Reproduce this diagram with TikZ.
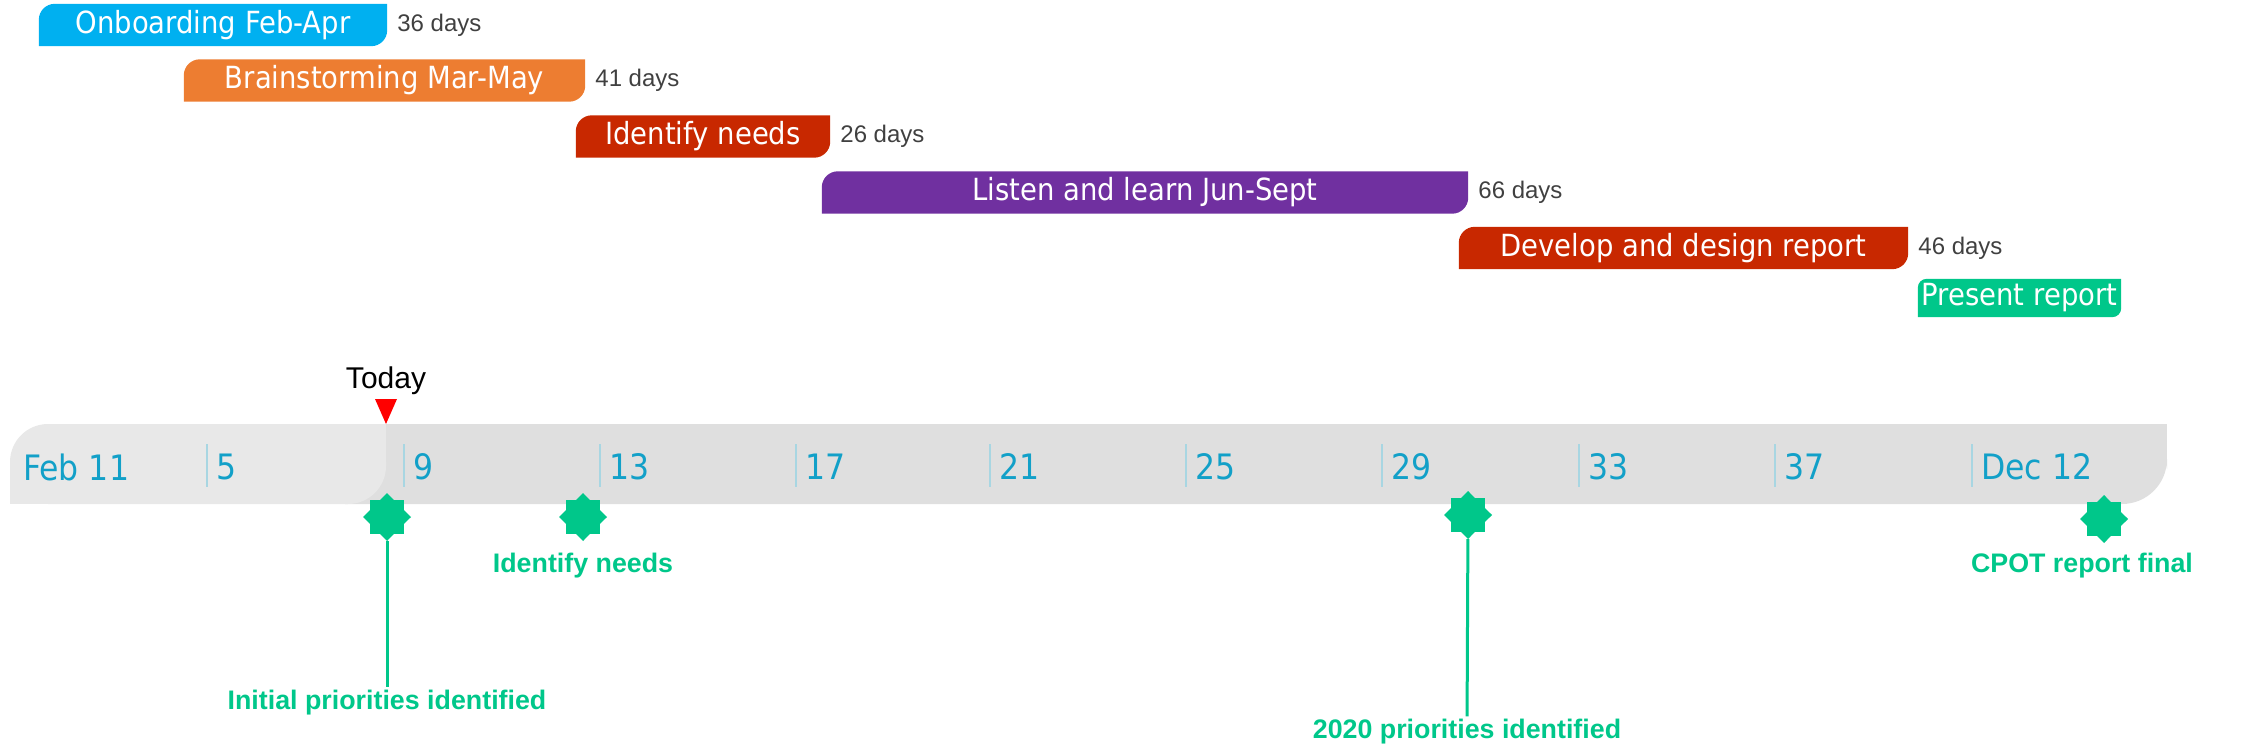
\documentclass[tikz,border=0pt]{standalone}
\usepackage{fontspec}
\setmainfont{Liberation Sans}
\newfontfamily\barfont[FakeStretch=0.9]{DejaVu Sans}
\usepackage{tikz}
\usetikzlibrary{positioning,shapes.geometric}
\definecolor{onbcol}{HTML}{00B0F0}
\definecolor{braincol}{HTML}{ED7D31}
\definecolor{needcol}{HTML}{C82800}
\definecolor{listencol}{HTML}{7030A0}
\definecolor{mscol}{HTML}{00C78A}
\definecolor{daytext}{HTML}{404040}
\definecolor{datecol}{HTML}{12A0C8}
\definecolor{tickcol}{HTML}{A8D6E2}
\definecolor{bandlight}{HTML}{E8E8E8}
\definecolor{banddark}{HTML}{DFDFDF}

\begin{document}
\begin{tikzpicture}[x=1pt,y=-1pt,node distance=8pt,
    task/.style={text=white,minimum height=42pt,inner sep=0pt,
                 font=\barfont\fontsize{30.5}{34}\selectfont},
    days/.style={text=daytext,inner sep=2pt,font=\fontsize{24}{28}\selectfont},
    datelabel/.style={text=datecol,inner sep=2pt,font=\barfont\fontsize{35}{40}\selectfont},
    tickline/.style={tickcol,line width=2pt},
    milestone/.style={star,star points=8,star point ratio=1.31,fill=mscol,
                      minimum size=48pt,inner sep=0pt},
    mslabel/.style={text=mscol,inner sep=3pt,font=\bfseries\fontsize{26.8}{30}\selectfont},
    msline/.style={mscol,line width=3pt}]

  \useasboundingbox (0,0) rectangle (2241,749);

  \node[task,minimum width=348pt] (onb) at (213,25) {\phantom{X}};
  \node[task,minimum width=401pt] (brain) at (384.5,80.5) {\phantom{X}};
  \node[task,minimum width=254pt] (needs) at (703,136.5) {\phantom{X}};
  \node[task,minimum width=646pt] (listen) at (1145,192.5) {\phantom{X}};
  \node[task,minimum width=449pt] (develop) at (1683.5,248) {\phantom{X}};
  \node[task,minimum width=203pt,minimum height=38pt] (present) at (2019.5,298) {\phantom{X}};

  \foreach \n/\c/\r in {onb/onbcol/16,brain/braincol/16,needs/needcol/16,listen/listencol/16,develop/needcol/16,present/mscol/9}{
    \fill[\c] (\n.south west) -- ([yshift=-\r pt]\n.north west)
      arc[start angle=180,end angle=270,radius=\r] -- (\n.north east)
      -- ([yshift=\r pt]\n.south east) arc[start angle=0,end angle=90,radius=\r] -- cycle;
  }

  \node[task] (onbtext) at (onb) {Onboarding Feb-Apr};
  \node[task] (braintext) at (brain) {Brainstorming Mar-May};
  \node[task] (needstext) at (needs) {Identify needs};
  \node[task] (listentext) at (listen) {Listen and learn Jun-Sept};
  \node[task] (developtext) at (develop) {Develop and design report};
  \node[task] (presenttext) at (present) {Present report};

  \node[days,right=of onb] (donb) {36 days};
  \node[days,right=of brain] (dbrain) {41 days};
  \node[days,right=of needs] (dneeds) {26 days};
  \node[days,right=of listen] (dlisten) {66 days};
  \node[days,right=of develop] (ddevelop) {46 days};

  \fill[banddark,rounded corners=45pt] (300,424) rectangle (2167,504);
  \fill[banddark] (300,424) rectangle (2110,504);
  \fill[banddark] (2100,424) rectangle (2167,464);
  \fill[bandlight,rounded corners=38pt] (10,424) rectangle (386,504);
  \fill[bandlight] (60,424) rectangle (386,464);
  \fill[bandlight] (10,464) rectangle (330,504);

  \node[datelabel,anchor=west] (d0) at (21,467) {Feb 11};
  \foreach \x/\d [count=\i] in {207/5,404/9,600/13,796/17,990/21,1186/25,1382/29,1579/33,1775/37,1972/Dec 12}{
    \draw[tickline] (\x,444) -- (\x,487);
    \node[datelabel,anchor=west] (d\i) at (\x+7,467) {\d};
  }

  \coordinate (tip) at (386,424);
  \fill[red] (tip) -- ++(-11,-25) -- ++(22,0) -- cycle;
  \node[inner sep=2pt,font=\fontsize{30}{34}\selectfont,anchor=south] (today) at (386,397) {Today};

  \node[milestone] (m1) at (387,517) {};
  \node[milestone] (m2) at (583,517) {};
  \node[milestone] (m3) at (1468,515) {};
  \node[milestone] (m4) at (2104,519) {};

  \node[mslabel] (l1) at (387,703) {Initial priorities identified};
  \node[mslabel] (l2) at (583,566) {Identify needs};
  \node[mslabel] (l3) at (1467,732) {2020 priorities identified};
  \node[mslabel] (l4) at (2082,566) {CPOT report final};

  \draw[msline] (m1) -- (l1);
  \draw[msline] (m3) -- (l3);
\end{tikzpicture}
\end{document}
